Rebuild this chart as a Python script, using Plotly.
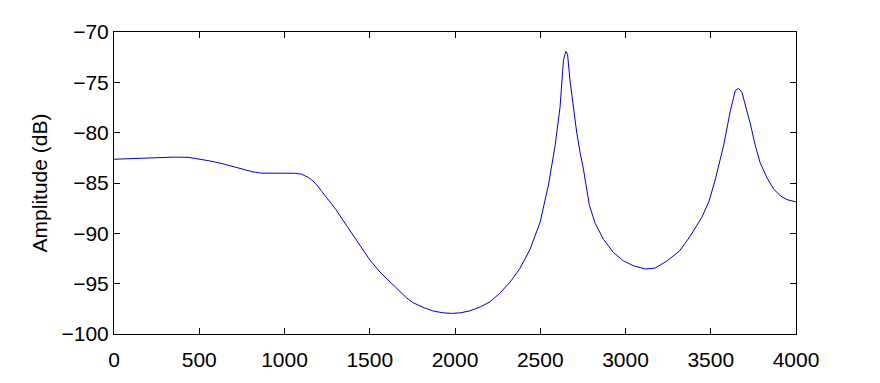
import plotly.graph_objects as go

freq_hz = [0, 130, 260, 350, 435, 495, 560, 640, 720, 815, 865, 970, 1060, 1100, 1140,
           1160, 1190, 1218, 1266, 1300, 1335, 1384, 1442, 1501, 1560, 1619, 1673, 1715,
           1755, 1790, 1820, 1873, 1930, 1981, 2030, 2088, 2150, 2205, 2260, 2323, 2380,
           2440, 2499, 2548, 2587, 2616, 2636, 2650, 2660, 2675, 2695, 2714, 2734, 2753,
           2788, 2822, 2871, 2929, 2988, 3047, 3115, 3174, 3243, 3317, 3379, 3448, 3490,
           3526, 3575, 3614, 3644, 3663, 3683, 3710, 3732, 3760, 3790, 3830, 3869, 3910,
           3947, 4000]
amplitude_db = [-82.64, -82.55, -82.45, -82.43, -82.45, -82.6, -82.8, -83.1, -83.5, -83.9,
                -84.02, -84.04, -84.03, -84.12, -84.45, -84.7, -85.2, -85.82, -86.85, -87.6,
                -88.5, -89.75, -91.1, -92.65, -93.85, -94.85, -95.75, -96.4, -96.9, -97.2,
                -97.4, -97.72, -97.9, -97.95, -97.9, -97.7, -97.3, -96.8, -96.0, -94.85,
                -93.5, -91.6, -88.9, -85.2, -81.3, -77.5, -72.8, -71.93, -72.2, -74.9,
                -77.6, -80.0, -82.0, -83.6, -87.2, -89.0, -90.6, -91.9, -92.74, -93.22,
                -93.54, -93.45, -92.75, -91.75, -90.3, -88.4, -86.8, -84.7, -81.3, -77.9,
                -75.8, -75.6, -76.0, -77.6, -79.1, -81.2, -83.0, -84.5, -85.6, -86.3,
                -86.65, -86.88]

x_ticks = [0, 500, 1000, 1500, 2000, 2500, 3000, 3500, 4000]
y_ticks = [-100, -95, -90, -85, -80, -75, -70]

fig = go.Figure()
fig.add_trace(go.Scatter(x=freq_hz, y=amplitude_db, mode="lines",
                         line=dict(color="#0000cc", width=1), showlegend=False,
                         hoverinfo="skip"))

font = dict(family="Liberation Sans, Arial, Helvetica, sans-serif", size=21, color="black")
title_font = dict(family="Liberation Sans, Arial, Helvetica, sans-serif", size=21, color="black")
axis_common = dict(showline=True, linecolor="black", linewidth=1, mirror="allticks",
                   ticks="inside", ticklen=6, tickwidth=1, tickcolor="black",
                   showgrid=False, zeroline=False, tickfont=font)

fig.update_layout(
    width=872, height=375,
    margin=dict(l=106, r=84, t=21, b=43),
    paper_bgcolor="white", plot_bgcolor="white",
    xaxis=dict(range=[0, 4000], tickvals=x_ticks, ticktext=[str(v) for v in x_ticks],
               ticklabelstandoff=7, **axis_common),
    yaxis=dict(range=[-100, -70], tickvals=y_ticks,
               ticktext=["\u2212" + str(abs(v)) for v in y_ticks],
               title=dict(text="Amplitude (dB)", font=title_font, standoff=8), **axis_common),
)

fig.write_html("out.html")
